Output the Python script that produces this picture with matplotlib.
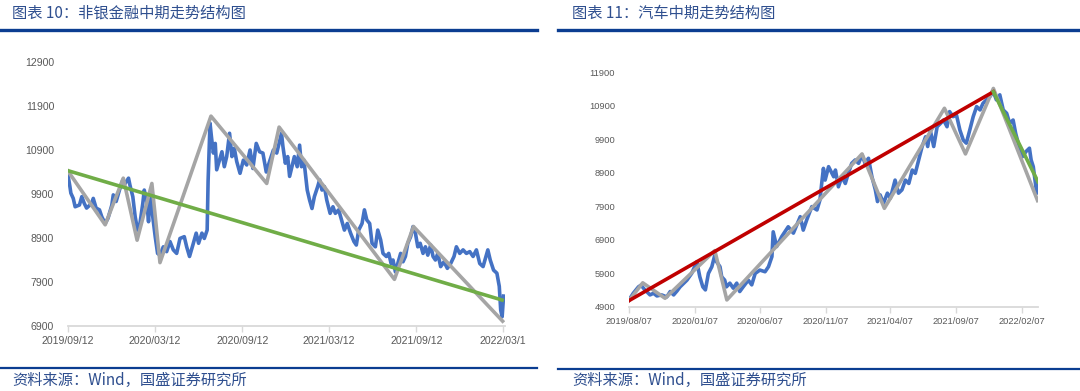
import numpy as np
import pandas as pd
import matplotlib
matplotlib.use("Agg")
import matplotlib.pyplot as plt
from matplotlib.lines import Line2D

plt.rcParams['font.family'] = ['Noto Sans CJK SC', 'DejaVu Sans']

# ── Left panel: 非银金融 ──────────────────────────────────────────────────────
fin_dates = [
    '2019-09-12', '2019-09-16', '2019-09-18', '2019-09-23', '2019-09-27', '2019-10-06',
    '2019-10-11', '2019-10-16', '2019-10-21', '2019-11-01', '2019-11-04', '2019-11-10',
    '2019-11-17', '2019-11-22', '2019-11-29', '2019-12-05', '2019-12-13', '2019-12-16',
    '2019-12-22', '2019-12-29', '2020-01-05', '2020-01-10', '2020-01-17', '2020-01-20',
    '2020-01-26', '2020-01-31', '2020-02-05', '2020-02-10', '2020-02-16', '2020-02-19',
    '2020-02-24', '2020-02-28', '2020-03-02', '2020-03-13', '2020-03-18', '2020-03-23',
    '2020-03-30', '2020-04-06', '2020-04-13', '2020-04-20', '2020-04-27', '2020-05-04',
    '2020-05-13', '2020-05-18', '2020-05-24', '2020-05-31', '2020-06-07', '2020-06-12',
    '2020-06-19', '2020-06-24', '2020-06-30', '2020-07-02', '2020-07-06', '2020-07-09',
    '2020-07-13', '2020-07-17', '2020-07-20', '2020-07-26', '2020-07-31', '2020-08-05',
    '2020-08-10', '2020-08-16', '2020-08-21', '2020-08-26', '2020-08-31', '2020-09-07',
    '2020-09-14', '2020-09-21', '2020-09-28', '2020-10-04', '2020-10-11', '2020-10-18',
    '2020-10-25', '2020-11-01', '2020-11-08', '2020-11-16', '2020-11-23', '2020-12-03',
    '2020-12-06', '2020-12-11', '2020-12-16', '2020-12-20', '2020-12-25', '2020-12-30',
    '2021-01-05', '2021-01-10', '2021-01-14', '2021-01-19', '2021-01-26', '2021-01-31',
    '2021-02-05', '2021-02-10', '2021-02-17', '2021-02-21', '2021-02-26', '2021-03-03',
    '2021-03-08', '2021-03-15', '2021-03-21', '2021-03-26', '2021-04-02', '2021-04-08',
    '2021-04-14', '2021-04-20', '2021-04-27', '2021-05-04', '2021-05-09', '2021-05-14',
    '2021-05-21', '2021-05-26', '2021-05-31', '2021-06-06', '2021-06-11', '2021-06-18',
    '2021-06-23', '2021-06-29', '2021-07-04', '2021-07-11', '2021-07-16', '2021-07-21',
    '2021-07-25', '2021-07-30', '2021-08-04', '2021-08-10', '2021-08-15', '2021-08-20',
    '2021-08-25', '2021-08-31', '2021-09-05', '2021-09-10', '2021-09-15', '2021-09-20',
    '2021-09-26', '2021-10-01', '2021-10-06', '2021-10-12', '2021-10-17', '2021-10-22',
    '2021-10-27', '2021-11-02', '2021-11-09', '2021-11-16', '2021-11-23', '2021-11-30',
    '2021-12-05', '2021-12-12', '2021-12-19', '2021-12-26', '2022-01-02', '2022-01-09',
    '2022-01-16', '2022-01-23', '2022-01-30', '2022-02-04', '2022-02-09', '2022-02-14',
    '2022-02-21', '2022-02-28', '2022-03-05', '2022-03-08', '2022-03-11', '2022-03-14',
]
fin_close = [
    10330, 10070, 9920, 9800, 9610, 9650,
    9840, 9690, 9580, 9690, 9800, 9580,
    9540, 9380, 9230, 9350, 9650, 9880,
    9730, 9990, 10220, 10140, 10260, 10100,
    9840, 9380, 9080, 9230, 9690, 9990,
    9760, 9270, 9900, 8930, 8550, 8510,
    8700, 8590, 8820, 8630, 8550, 8890,
    8930, 8700, 8480, 8740, 9010, 8780,
    9010, 8890, 9080, 10200, 11510, 11200,
    10830, 11050, 10450, 10670, 10860, 10520,
    10750, 11280, 10750, 10940, 10640, 10370,
    10670, 10560, 10900, 10480, 11050, 10860,
    10830, 10400, 10640, 10900, 10830, 11280,
    10980, 10600, 10750, 10300, 10520, 10750,
    10520, 11010, 10520, 10670, 9990, 9760,
    9570, 9840, 10070, 10220, 9990, 10070,
    9760, 9460, 9610, 9460, 9540, 9310,
    9080, 9230, 9010, 8820, 8740, 9080,
    9230, 9540, 9310, 9230, 8780, 8700,
    9080, 8860, 8550, 8480, 8550, 8320,
    8400, 8130, 8320, 8550, 8360, 8480,
    8780, 8930, 9160, 9010, 8700, 8780,
    8550, 8700, 8510, 8740, 8480, 8400,
    8550, 8250, 8360, 8210, 8320, 8480,
    8700, 8550, 8630, 8550, 8590, 8480,
    8630, 8320, 8250, 8440, 8630, 8400,
    8170, 8100, 7800, 7260, 7110, 7580,
]
fin_zig_dates = ['2019-09-12', '2019-11-29', '2020-01-06', '2020-02-04', '2020-03-06',
                 '2020-03-23', '2020-07-08', '2020-11-02', '2020-11-28', '2021-07-28',
                 '2021-09-06', '2022-03-12']
fin_zig_vals = [10420, 9200, 10260, 8850, 10140, 8340, 11670, 10140, 11420, 7960, 9160, 7010]
fin_trend_dates = ['2019-09-12', '2022-03-11']
fin_trend_vals = [10430, 7490]
fin_ticks = ['2019-09-12', '2020-03-12', '2020-09-12', '2021-03-12', '2021-09-12', '2022-03-12']
fin_tick_labels = ['2019/09/12', '2020/03/12', '2020/09/12', '2021/03/12', '2021/09/12', '2022/03/1']

# ── Right panel: 汽车 ─────────────────────────────────────────────────────────
car_dates = [
    '2019-08-07', '2019-08-17', '2019-08-29', '2019-09-04', '2019-09-13', '2019-09-25',
    '2019-10-03', '2019-10-11', '2019-10-22', '2019-11-03', '2019-11-11', '2019-11-19',
    '2019-11-27', '2019-12-04', '2019-12-20', '2019-12-31', '2020-01-12', '2020-01-19',
    '2020-01-26', '2020-02-01', '2020-02-08', '2020-02-16', '2020-02-23', '2020-02-27',
    '2020-03-06', '2020-03-10', '2020-03-17', '2020-03-21', '2020-03-29', '2020-04-06',
    '2020-04-14', '2020-04-21', '2020-04-29', '2020-05-11', '2020-05-19', '2020-05-27',
    '2020-06-07', '2020-06-19', '2020-06-27', '2020-07-05', '2020-07-08', '2020-07-16',
    '2020-07-28', '2020-08-12', '2020-08-24', '2020-09-09', '2020-09-16', '2020-09-24',
    '2020-10-06', '2020-10-18', '2020-10-25', '2020-10-29', '2020-11-02', '2020-11-06',
    '2020-11-14', '2020-11-22', '2020-11-26', '2020-11-30', '2020-12-07', '2020-12-15',
    '2020-12-23', '2020-12-30', '2021-01-07', '2021-01-15', '2021-01-23', '2021-01-31',
    '2021-02-07', '2021-02-15', '2021-02-23', '2021-03-03', '2021-03-08', '2021-03-14',
    '2021-03-22', '2021-03-31', '2021-04-07', '2021-04-18', '2021-04-26', '2021-05-04',
    '2021-05-12', '2021-05-20', '2021-05-28', '2021-06-04', '2021-06-12', '2021-06-20',
    '2021-06-28', '2021-07-03', '2021-07-09', '2021-07-17', '2021-07-25', '2021-08-02',
    '2021-08-09', '2021-08-17', '2021-08-23', '2021-08-31', '2021-09-08', '2021-09-16',
    '2021-09-24', '2021-10-01', '2021-10-09', '2021-10-17', '2021-10-25', '2021-11-02',
    '2021-11-09', '2021-11-17', '2021-11-25', '2021-12-03', '2021-12-10', '2021-12-18',
    '2021-12-26', '2022-01-03', '2022-01-10', '2022-01-18', '2022-01-24', '2022-02-01',
    '2022-02-09', '2022-02-17', '2022-02-25', '2022-03-01', '2022-03-06', '2022-03-09',
    '2022-03-14', '2022-03-16',
]
car_close = [
    5110, 5310, 5500, 5550, 5410, 5260,
    5310, 5230, 5260, 5200, 5360, 5260,
    5380, 5500, 5700, 5900, 6250, 5800,
    5500, 5410, 5900, 6100, 6450, 6250,
    6100, 5800, 5700, 5500, 5610, 5460,
    5610, 5360, 5500, 5700, 5560, 5900,
    6000, 5950, 6100, 6400, 7140, 6700,
    7000, 7290, 7100, 7590, 7190, 7490,
    7890, 7790, 8090, 8580, 9030, 8680,
    9080, 8880, 8780, 8980, 8480, 8780,
    8580, 8880, 9180, 9280, 9180, 9430,
    9180, 9330, 8780, 8390, 8040, 8240,
    7990, 8290, 8140, 8680, 8290, 8390,
    8680, 8580, 8980, 8880, 9280, 9680,
    9970, 9680, 10170, 9680, 10270, 10370,
    10470, 10270, 10720, 10570, 10620, 10170,
    9870, 9780, 10170, 10570, 10870, 10770,
    10970, 11070, 11170, 11310, 11070, 11220,
    10770, 10670, 10370, 10470, 10070, 9680,
    9380, 9530, 9630, 9280, 9080, 8780,
    8290, 8580,
]
car_zig_dates = ['2019-08-07', '2019-09-08', '2019-10-30', '2020-02-23', '2020-03-22',
                 '2021-01-31', '2021-03-24', '2021-08-11', '2021-09-29', '2021-12-03',
                 '2022-03-16']
car_zig_vals = [5090, 5620, 5160, 6580, 5110, 9460, 7840, 10820, 9460, 11410, 8070]
car_up_dates = ['2019-08-07', '2021-12-03']
car_up_vals = [5090, 11310]
car_down_dates = ['2021-12-03', '2022-03-17']
car_down_vals = [11310, 8630]
car_ticks = ['2019-08-07', '2020-01-07', '2020-06-07', '2020-11-07',
             '2021-04-07', '2021-09-07', '2022-02-07']
car_tick_labels = ['2019/08/07', '2020/01/07', '2020/06/07', '2020/11/07',
                   '2021/04/07', '2021/09/07', '2022/02/07']

titles = ['图表 10：非银金融中期走势结构图', '图表 11：汽车中期走势结构图']
source = '资料来源：Wind，国盛证券研究所'

BLUE, GRAY, GREEN, RED = '#4472C4', '#A5A5A5', '#70AD47', '#C00000'
NAVY = '#0B3D91'
TXT = '#595959'
LW = 2.6

W, H = 1080, 391
fig = plt.figure(figsize=(W / 100, H / 100), dpi=100)


def px_axes(x0, y0, x1, y1):
    return fig.add_axes([x0 / W, 1 - y1 / H, (x1 - x0) / W, (y1 - y0) / H])


def style(ax, ylim, yticks, ticks, labels, xlim, fs):
    ax.set_ylim(*ylim)
    ax.set_yticks(yticks)
    ax.set_xlim(pd.to_datetime(xlim[0]), pd.to_datetime(xlim[1]))
    ax.set_xticks(pd.to_datetime(ticks))
    ax.set_xticklabels(labels)
    for s in ['top', 'right', 'left']:
        ax.spines[s].set_visible(False)
    ax.spines['bottom'].set_color('#D9D9D9')
    ax.spines['bottom'].set_linewidth(1.3)
    ax.tick_params(axis='x', direction='out', length=4, width=1, color='#D9D9D9',
                   labelsize=fs, labelcolor=TXT, pad=3)
    ax.tick_params(axis='y', length=0, labelsize=fs, labelcolor=TXT, pad=10)
    for lab in ax.get_xticklabels() + ax.get_yticklabels():
        lab.set_family('Liberation Sans')


# left chart
ax1 = px_axes(68, 62, 505, 326)
ax1.plot(pd.to_datetime(fin_dates), fin_close, color=BLUE, lw=LW, zorder=2)
ax1.plot(pd.to_datetime(fin_zig_dates), fin_zig_vals, color=GRAY, lw=LW, zorder=3)
ax1.plot(pd.to_datetime(fin_trend_dates), fin_trend_vals, color=GREEN, lw=LW, zorder=4)
style(ax1, (6900, 12900), range(6900, 12901, 1000), fin_ticks, fin_tick_labels,
      ('2019-09-12', '2022-03-17'), 7.6)

# right chart
ax2 = px_axes(629, 72, 1038, 307)
ax2.plot(pd.to_datetime(car_dates), car_close, color=BLUE, lw=LW, zorder=2)
ax2.plot(pd.to_datetime(car_zig_dates), car_zig_vals, color=GRAY, lw=LW, zorder=3)
ax2.plot(pd.to_datetime(car_up_dates), car_up_vals, color=RED, lw=LW, zorder=4)
ax2.plot(pd.to_datetime(car_down_dates), car_down_vals, color=GREEN, lw=LW, zorder=4)
style(ax2, (4900, 11900), range(4900, 11901, 1000), car_ticks, car_tick_labels,
      ('2019-08-07', '2022-03-17'), 6.7)

# headers, rules and source lines
fig.text(12 / W, 1 - 13 / H, titles[0], fontsize=11, color='#2F4F8F', va='center', ha='left')
fig.text(572 / W, 1 - 13 / H, titles[1], fontsize=11, color='#2F4F8F', va='center', ha='left')
fig.add_artist(Line2D([0, 537 / W], [1 - 29.5 / H] * 2, color=NAVY, lw=2.4))
fig.add_artist(Line2D([558 / W, 1], [1 - 29.5 / H] * 2, color=NAVY, lw=2.4))
fig.add_artist(Line2D([0, 537 / W], [1 - 368 / H] * 2, color=NAVY, lw=1.6))
fig.add_artist(Line2D([558 / W, 1], [1 - 369 / H] * 2, color=NAVY, lw=1.6))
fig.text(12 / W, 1 - 380 / H, source, fontsize=11, color='#2F4F8F', va='center', ha='left')
fig.text(572 / W, 1 - 380 / H, source, fontsize=11, color='#2F4F8F', va='center', ha='left')

fig.savefig('out.png', dpi=100)
